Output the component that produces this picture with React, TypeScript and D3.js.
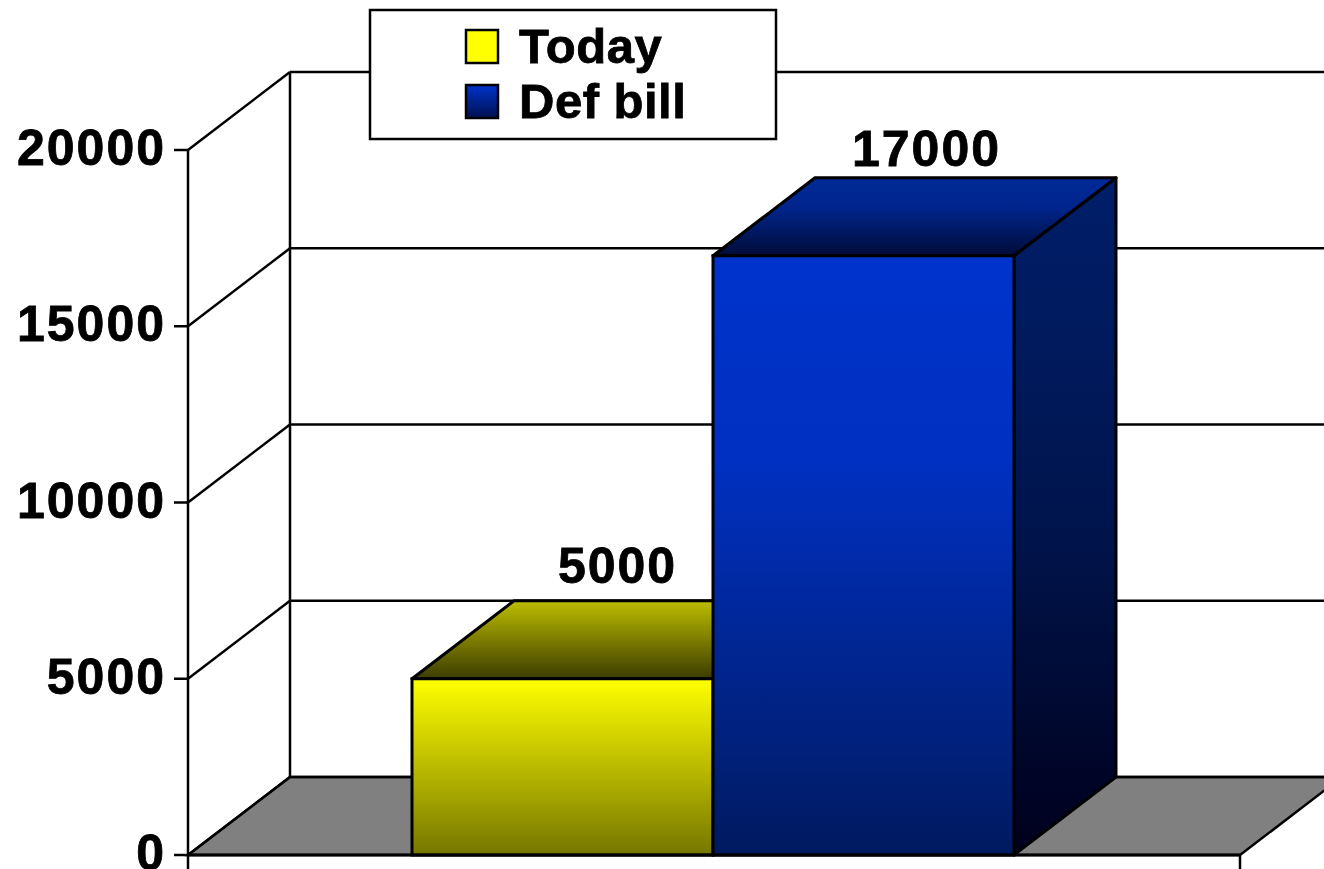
import React from "react";
import * as d3 from "d3";

const categories = ["Today", "Def bill"];
const values = [5000, 17000];
const yTicks = [0, 5000, 10000, 15000, 20000];
const legendLabels = ["Today", "Def bill"];

const W = 1324;
const H = 869;
const DX = 102;
const DY = -78;
const FONT = "'Liberation Sans', Arial, sans-serif";

export default function App() {
  const y = d3.scaleLinear().domain([0, 20000]).range([855, 150]);
  const x = d3.scaleLinear().domain([0, 1]).range([188, 1240]);
  const band = d3
    .scaleBand<string>()
    .domain(categories)
    .range([412, 1014])
    .paddingInner(0);

  const x0 = x(0);
  const x1 = x(1);
  const yb = y(0);
  const ytop = y(20000);

  const fills = [
    { front: "url(#yFront)", top: "url(#yTop)", side: "url(#ySide)" },
    { front: "url(#bFront)", top: "url(#bTop)", side: "url(#bSide)" },
  ];

  const pts = (arr: [number, number][]) => arr.map((p) => p.join(",")).join(" ");

  const textStyle = {
    fontSize: 50,
    fontWeight: "bold" as const,
    fill: "#000",
    stroke: "#000",
    strokeWidth: 0.8,
    letterSpacing: 2,
  };

  return (
    <svg
      width={W}
      height={H}
      style={{ position: "absolute", left: 0, top: 0, background: "#fff" }}
      fontFamily={FONT}
    >
      <defs>
        <linearGradient id="yFront" x1="0" y1="0" x2="0" y2="1">
          <stop offset="0" stopColor="#FFFF00" />
          <stop offset="1" stopColor="#767600" />
        </linearGradient>
        <linearGradient id="yTop" x1="0" y1="0" x2="0" y2="1">
          <stop offset="0" stopColor="#BDBD00" />
          <stop offset="1" stopColor="#3C3C00" />
        </linearGradient>
        <linearGradient id="ySide" x1="0" y1="0" x2="0" y2="1">
          <stop offset="0" stopColor="#8A8A00" />
          <stop offset="1" stopColor="#202000" />
        </linearGradient>
        <linearGradient id="bFront" x1="0" y1="0" x2="0" y2="1">
          <stop offset="0" stopColor="#0033CC" />
          <stop offset="0.35" stopColor="#0030C0" />
          <stop offset="1" stopColor="#001A60" />
        </linearGradient>
        <linearGradient id="bTop" x1="0" y1="0" x2="0" y2="1">
          <stop offset="0" stopColor="#002A99" />
          <stop offset="0.4" stopColor="#00248A" />
          <stop offset="1" stopColor="#000C38" />
        </linearGradient>
        <linearGradient id="bSide" x1="0" y1="0" x2="0" y2="1">
          <stop offset="0" stopColor="#001E6A" />
          <stop offset="0.5" stopColor="#00154E" />
          <stop offset="1" stopColor="#00001C" />
        </linearGradient>
        <linearGradient id="lgBlue" x1="0" y1="0" x2="0" y2="1">
          <stop offset="0" stopColor="#0033CC" />
          <stop offset="1" stopColor="#001050" />
        </linearGradient>
      </defs>

      {/* floor */}
      <polygon
        points={pts([
          [x0, yb],
          [x1, yb],
          [x1 + DX, yb + DY],
          [x0 + DX, yb + DY],
        ])}
        fill="#808080"
        stroke="#000"
        strokeWidth={2.5}
      />

      {/* back wall gridlines */}
      {yTicks.map((t) => (
        <line
          key={"g" + t}
          x1={x0 + DX}
          x2={W + 40}
          y1={y(t) + DY}
          y2={y(t) + DY}
          stroke="#000"
          strokeWidth={2.5}
        />
      ))}
      <line x1={x0 + DX} x2={x0 + DX} y1={ytop + DY} y2={yb + DY} stroke="#000" strokeWidth={2.5} />
      {yTicks.map((t) => (
        <line
          key={"d" + t}
          x1={x0}
          x2={x0 + DX}
          y1={y(t)}
          y2={y(t) + DY}
          stroke="#000"
          strokeWidth={2.5}
        />
      ))}

      {/* bars */}
      {categories.map((c, i) => {
        const bx = band(c)!;
        const bw = band.bandwidth();
        const by = y(values[i]);
        return (
          <g key={c}>
            <polygon
              points={pts([
                [bx + bw, by],
                [bx + bw + DX, by + DY],
                [bx + bw + DX, yb + DY],
                [bx + bw, yb],
              ])}
              fill={fills[i].side}
              stroke="#000"
              strokeWidth={3}
              strokeLinejoin="round"
            />
            <polygon
              points={pts([
                [bx, by],
                [bx + bw, by],
                [bx + bw + DX, by + DY],
                [bx + DX, by + DY],
              ])}
              fill={fills[i].top}
              stroke="#000"
              strokeWidth={3}
              strokeLinejoin="round"
            />
            <rect
              x={bx}
              y={by}
              width={bw}
              height={yb - by}
              fill={fills[i].front}
              stroke="#000"
              strokeWidth={3}
            />
          </g>
        );
      })}

      {/* value labels */}
      {categories.map((c, i) => {
        const bx = band(c)!;
        const bw = band.bandwidth();
        const by = y(values[i]);
        return (
          <text
            key={"v" + c}
            x={bx + bw / 2 + DX / 2 + 4 + (i === 1 ? 8 : 0)}
            y={by + DY - 18 + (i === 1 ? 6 : 0)}
            textAnchor="middle"
            {...textStyle}
          >
            {values[i]}
          </text>
        );
      })}

      {/* front axes */}
      <line x1={x0} x2={x0} y1={ytop} y2={H} stroke="#000" strokeWidth={2.5} />
      <line x1={x0} x2={x1} y1={yb} y2={yb} stroke="#000" strokeWidth={3} />
      <line x1={x1} x2={x1} y1={yb} y2={H} stroke="#000" strokeWidth={2.5} />
      {yTicks.map((t) => (
        <g key={"t" + t}>
          <line x1={x0 - 14} x2={x0} y1={y(t)} y2={y(t)} stroke="#000" strokeWidth={2.5} />
          <text x={x0 - 22} y={y(t) + 15} textAnchor="end" {...textStyle}>
            {t}
          </text>
        </g>
      ))}

      {/* legend */}
      <rect x={370} y={10} width={406} height={129} fill="#fff" stroke="#000" strokeWidth={2.5} />
      {legendLabels.map((l, i) => (
        <g key={"l" + l} transform={`translate(466, ${30 + i * 55})`}>
          <rect
            x={0}
            y={0}
            width={32}
            height={33}
            fill={i === 0 ? "#FFFF00" : "url(#lgBlue)"}
            stroke="#000"
            strokeWidth={2.5}
          />
          <text x={53} y={33} {...textStyle} fontSize={49} letterSpacing={0.5}>
            {l}
          </text>
        </g>
      ))}
    </svg>
  );
}
